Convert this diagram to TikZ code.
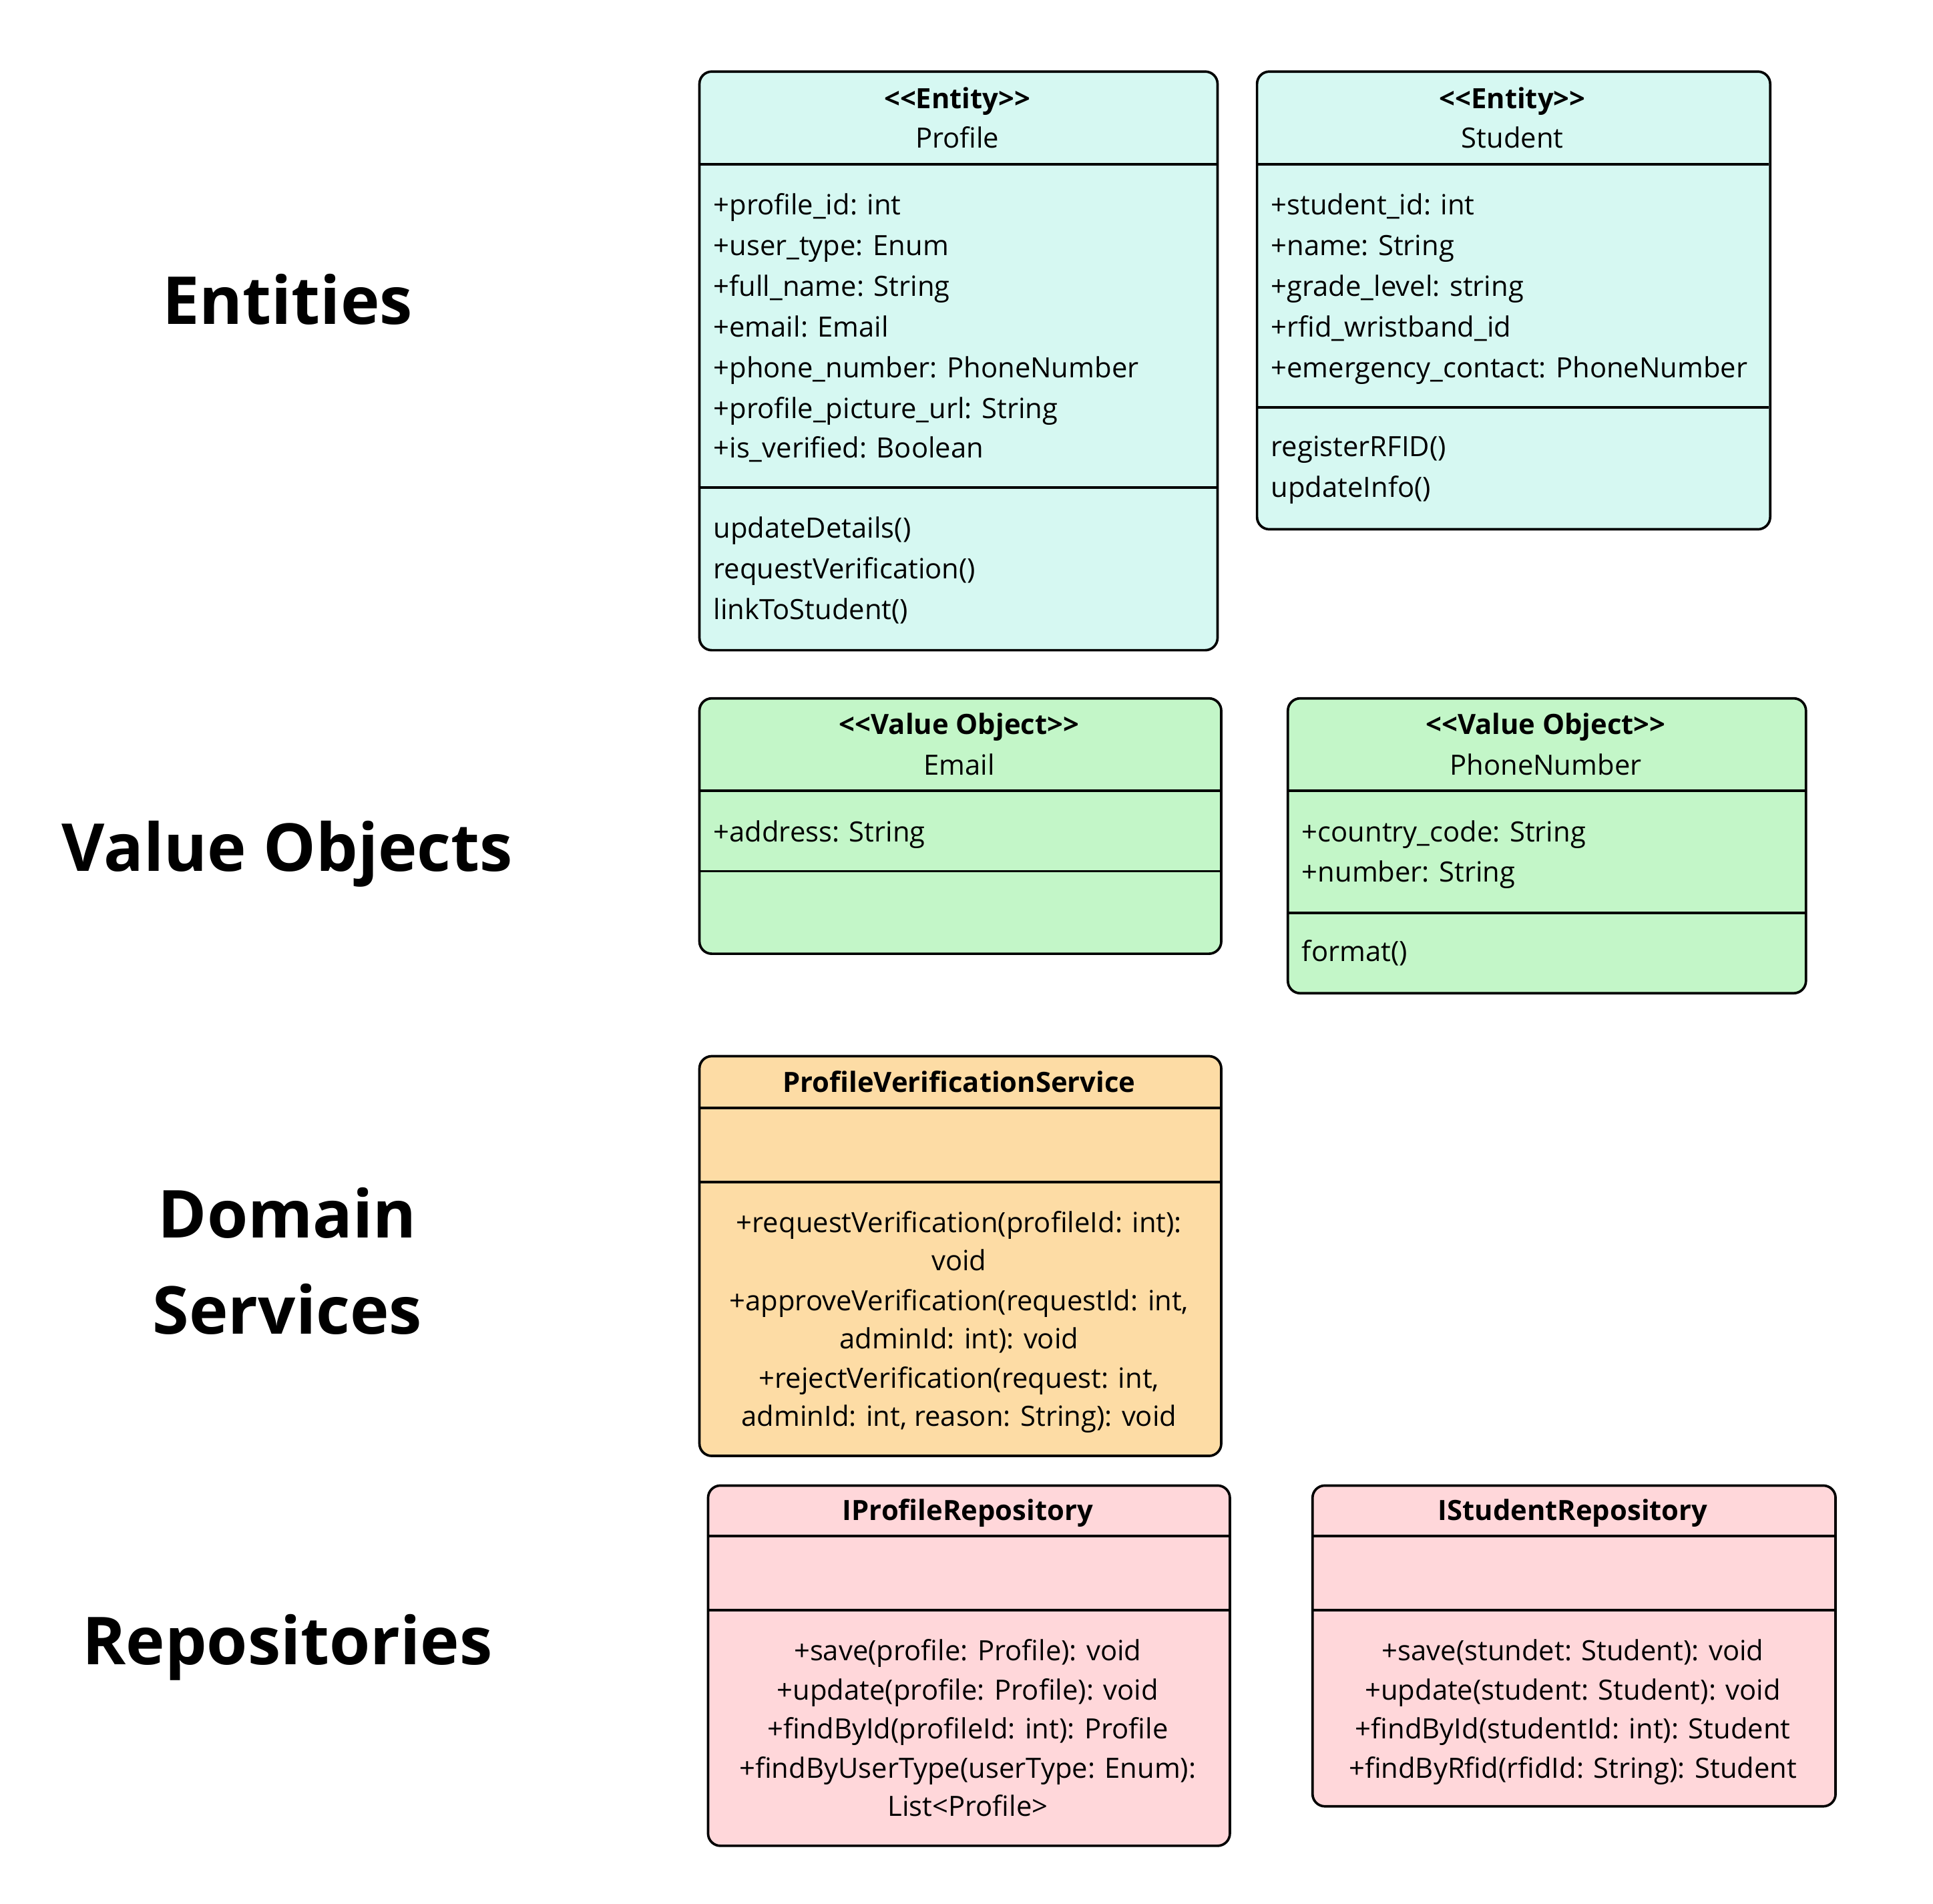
\documentclass[tikz,border=0pt]{standalone}
\usepackage{fontspec}
\setmainfont{Open Sans}
\usepackage{tikz}
\definecolor{entfill}{RGB}{214,248,242}
\definecolor{vofill}{RGB}{195,246,200}
\definecolor{svcfill}{RGB}{253,220,165}
\definecolor{repofill}{RGB}{255,215,218}
\newcommand{\stereo}[1]{<\kern0pt<#1>\kern0pt>}

\begin{document}
\begin{tikzpicture}[x=0.5pt,y=-0.5pt,
   box/.style={draw=black,line width=1pt,rounded corners=5pt,anchor=north west,inner sep=0pt},
   sep/.style={line width=1pt},
   attr/.style={anchor=base west,inner sep=0pt,font=\fontsize{11.3}{13}\selectfont},
   ctr/.style={anchor=base,inner sep=0pt,font=\fontsize{11.3}{13}\selectfont},
   head/.style={anchor=base,inner sep=0pt,font=\fontsize{11.3}{13}\selectfont\bfseries},
   layer/.style={anchor=base,inner sep=0pt,font=\fontsize{26.8}{32}\selectfont\bfseries}]
\useasboundingbox (0,0) rectangle (1567,1543);

% layer labels
\node[layer] (l-ent) at (233,263) {Entities};
\node[layer] (l-vo) at (233,706) {Value Objects};
\node[layer] (l-dom) at (233,1003) {Domain};
\node[layer] (l-svc) at (233,1081) {Services};
\node[layer] (l-repo) at (233,1349) {Repositories};

% Profile
\node[box,fill=entfill,minimum width=210pt,minimum height=234.5pt] (profile) at (566,57) {};
\draw[sep] (566,133) -- (986,133);
\draw[sep] (566,395) -- (986,395);
\node[head] (profile-st) at (776,88) {\stereo{Entity}};
\node[ctr] (profile-nm) at (776,120) {Profile};
\node[attr] (profile-a1) at (578,174) {+profile\_id: int};
\node[attr] (profile-a2) at (578,207) {+user\_type: Enum};
\node[attr] (profile-a3) at (578,240) {+full\_name: String};
\node[attr] (profile-a4) at (578,273) {+email: Email};
\node[attr] (profile-a5) at (578,306) {+phone\_number: PhoneNumber};
\node[attr] (profile-a6) at (578,339) {+profile\_picture\_url: String};
\node[attr] (profile-a7) at (578,371) {+is\_verified: Boolean};
\node[attr] (profile-m1) at (578,436) {updateDetails()};
\node[attr] (profile-m2) at (578,469) {requestVerification()};
\node[attr] (profile-m3) at (578,502) {linkToStudent()};

% Student
\node[box,fill=entfill,minimum width=208pt,minimum height=185.5pt] (student) at (1018,57) {};
\draw[sep] (1018,133) -- (1434,133);
\draw[sep] (1018,330) -- (1434,330);
\node[head] (student-st) at (1226,88) {\stereo{Entity}};
\node[ctr] (student-nm) at (1226,120) {Student};
\node[attr] (student-a1) at (1030,174) {+student\_id: int};
\node[attr] (student-a2) at (1030,207) {+name: String};
\node[attr] (student-a3) at (1030,240) {+grade\_level: string};
\node[attr] (student-a4) at (1030,273) {+rfid\_wristband\_id};
\node[attr] (student-a5) at (1030,306) {+emergency\_contact: PhoneNumber};
\node[attr] (student-m1) at (1030,370) {registerRFID()};
\node[attr] (student-m2) at (1030,403) {updateInfo()};

% Email
\node[box,fill=vofill,minimum width=211.5pt,minimum height=103.5pt] (email) at (566,565) {};
\draw[sep] (566,641) -- (989,641);
\draw[sep] (566,706) -- (989,706);
\node[head] (email-st) at (777.5,595) {\stereo{Value Object}};
\node[ctr] (email-nm) at (777.5,628) {Email};
\node[attr] (email-a1) at (578,682) {+address: String};

% PhoneNumber
\node[box,fill=vofill,minimum width=210pt,minimum height=119.5pt] (phone) at (1043,565) {};
\draw[sep] (1043,641) -- (1463,641);
\draw[sep] (1043,740) -- (1463,740);
\node[head] (phone-st) at (1253,595) {\stereo{Value Object}};
\node[ctr] (phone-nm) at (1253,628) {PhoneNumber};
\node[attr] (phone-a1) at (1055,682) {+country\_code: String};
\node[attr] (phone-a2) at (1055,715) {+number: String};
\node[attr] (phone-m1) at (1055,779) {format()};

% ProfileVerificationService
\node[box,fill=svcfill,minimum width=211.5pt,minimum height=162pt] (verify) at (566,855) {};
\draw[sep] (566,898) -- (989,898);
\draw[sep] (566,958) -- (989,958);
\node[head] (verify-nm) at (777.5,885) {ProfileVerificationService};
\node[ctr] (verify-m1) at (777.5,999) {+requestVerification(profileId: int):};
\node[ctr] (verify-m2) at (777.5,1030) {void};
\node[ctr] (verify-m3) at (777.5,1062) {+approveVerification(requestId: int,};
\node[ctr] (verify-m4) at (777.5,1093) {adminId: int): void};
\node[ctr] (verify-m5) at (777.5,1125) {+rejectVerification(request: int,};
\node[ctr] (verify-m6) at (777.5,1156) {adminId: int, reason: String): void};

% IProfileRepository
\node[box,fill=repofill,minimum width=211.5pt,minimum height=146pt] (profrepo) at (573,1203) {};
\draw[sep] (573,1245) -- (996,1245);
\draw[sep] (573,1305) -- (996,1305);
\node[head] (profrepo-nm) at (784.5,1232) {IProfileRepository};
\node[ctr] (profrepo-m1) at (784.5,1346) {+save(profile: Profile): void};
\node[ctr] (profrepo-m2) at (784.5,1378) {+update(profile: Profile): void};
\node[ctr] (profrepo-m3) at (784.5,1409) {+findById(profileId: int): Profile};
\node[ctr] (profrepo-m4) at (784.5,1441) {+findByUserType(userType: Enum):};
\node[ctr] (profrepo-m5) at (784.5,1472) {List<Profile>};

% IStudentRepository
\node[box,fill=repofill,minimum width=212pt,minimum height=130pt] (studrepo) at (1063,1203) {};
\draw[sep] (1063,1245) -- (1487,1245);
\draw[sep] (1063,1305) -- (1487,1305);
\node[head] (studrepo-nm) at (1275,1232) {IStudentRepository};
\node[ctr] (studrepo-m1) at (1275,1346) {+save(stundet: Student): void};
\node[ctr] (studrepo-m2) at (1275,1378) {+update(student: Student): void};
\node[ctr] (studrepo-m3) at (1275,1409) {+findById(studentId: int): Student};
\node[ctr] (studrepo-m4) at (1275,1441) {+findByRfid(rfidId: String): Student};
\end{tikzpicture}
\end{document}
